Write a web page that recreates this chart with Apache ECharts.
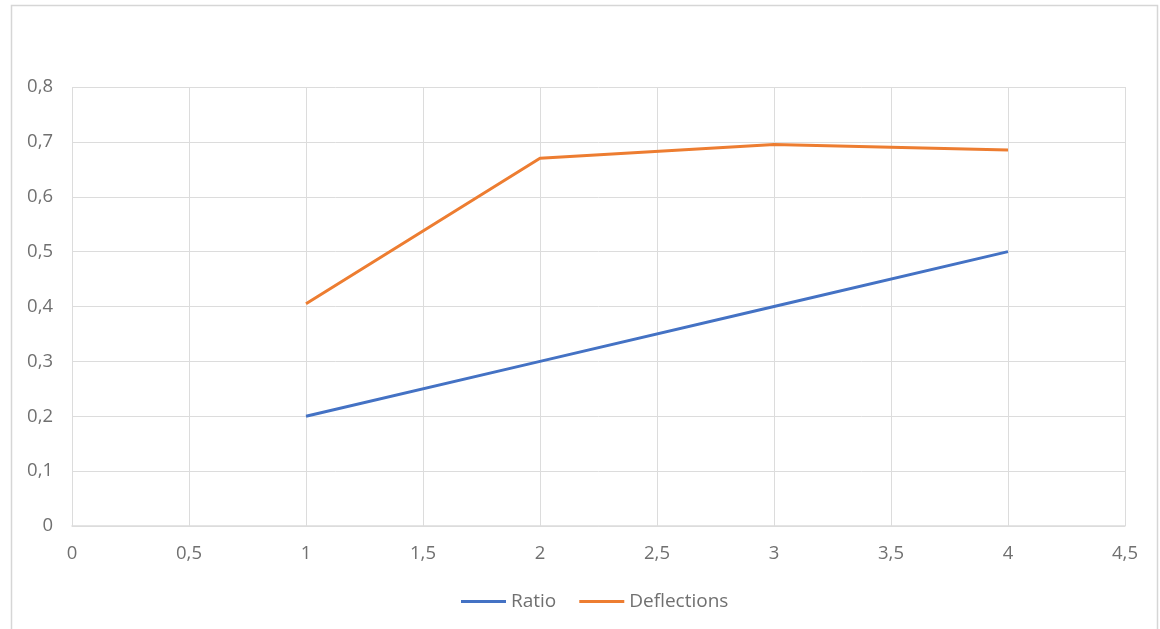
<!DOCTYPE html>
<html>
<head>
<meta charset="utf-8">
<script src="https://cdn.jsdelivr.net/npm/echarts@6/dist/echarts.min.js"></script>
<style>
  html, body { margin: 0; padding: 0; background: #fff; }
  #chart { width: 1160px; height: 629px; }
</style>
</head>
<body>
<div id="chart"></div>
<script>
// Measurements taken at each step
const steps = [1, 2, 3, 4];
const ratio = [0.2, 0.3, 0.4, 0.5];
const deflections = [0.405, 0.67, 0.695, 0.685];
const seriesNames = ['Ratio', 'Deflections'];

const textColor = '#707070';
const gridColor = '#dcdcdc';
const fontFamily = '"Open Sans", "Noto Sans", sans-serif';
const commaDecimal = v => String(+v.toFixed(2)).replace('.', ',');

const chart = echarts.init(document.getElementById('chart'), null, { renderer: 'canvas' });

chart.setOption({
  animation: false,
  backgroundColor: '#ffffff',
  textStyle: { fontFamily: fontFamily },
  graphic: [{
    type: 'rect',
    shape: { x: 11.5, y: 5.5, width: 1146, height: 640 },
    style: { fill: 'none', stroke: '#d6d6d6', lineWidth: 1.5 },
    silent: true
  }],
  grid: { left: 72, right: 35, top: 87, bottom: 103 },
  xAxis: {
    type: 'value',
    min: 0, max: 4.5, interval: 0.5,
    axisLine: { show: true, lineStyle: { color: gridColor, width: 1.5 } },
    axisTick: { show: false },
    splitLine: { show: true, lineStyle: { color: gridColor, width: 1 } },
    axisLabel: {
      color: textColor, fontSize: 18.5, fontFamily: fontFamily, margin: 18,
      formatter: commaDecimal
    }
  },
  yAxis: {
    type: 'value',
    min: 0, max: 0.8, interval: 0.1,
    axisLine: { show: false },
    axisTick: { show: false },
    splitLine: { show: true, lineStyle: { color: gridColor, width: 1 } },
    axisLabel: {
      color: textColor, fontSize: 18.5, fontFamily: fontFamily, margin: 19,
      formatter: commaDecimal
    }
  },
  legend: {
    data: seriesNames,
    bottom: 13,
    left: 456,
    icon: 'rect',
    itemWidth: 45,
    itemHeight: 3,
    itemGap: 23,
    textStyle: { color: textColor, fontSize: 19, fontFamily: fontFamily }
  },
  series: [
    {
      name: seriesNames[0],
      type: 'line',
      data: steps.map((x, i) => [x, ratio[i]]),
      symbol: 'none',
      lineStyle: { color: '#4472C4', width: 3 },
      itemStyle: { color: '#4472C4' }
    },
    {
      name: seriesNames[1],
      type: 'line',
      data: steps.map((x, i) => [x, deflections[i]]),
      symbol: 'none',
      lineStyle: { color: '#ED7D31', width: 3 },
      itemStyle: { color: '#ED7D31' }
    }
  ]
});
</script>
</body>
</html>
